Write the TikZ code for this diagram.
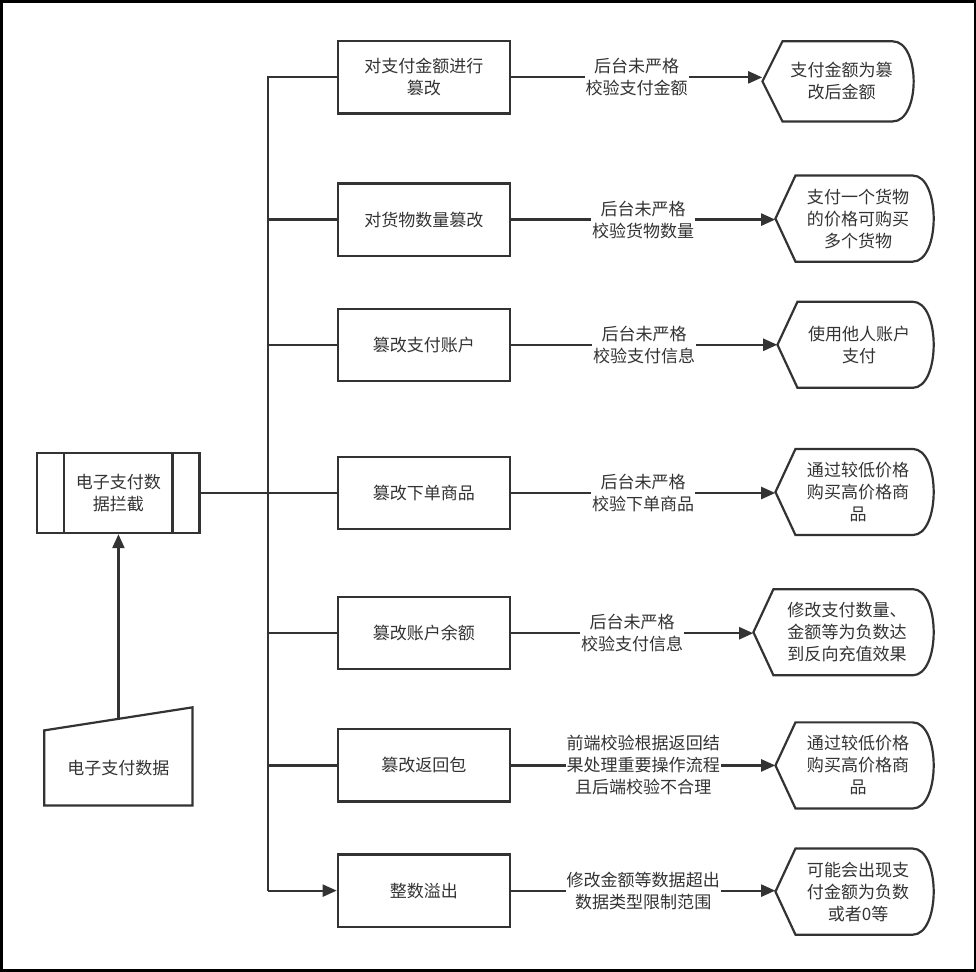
\documentclass[tikz,border=0pt]{standalone}
\usepackage{fontspec}
\setmainfont{Noto Sans CJK SC}
\usetikzlibrary{arrows.meta}
\definecolor{inkgray}{HTML}{333333}

% display shape: name, centre x, centre y, left x, right x, half height, text
\newcommand{\dispnode}[7]{%
  \node[dtext, minimum width={#5-#4}, minimum height={2*#6}] (#1) at ({(#4+#5)/2},#3) {#7};
  \draw[shape line] (#4,#3) -- (#4+20,#3-#6) -- (#5-28,#3-#6)
    .. controls (#5,#3-#6) and (#5,#3+#6) .. (#5-28,#3+#6)
    -- (#4+20,#3+#6) -- cycle;
}

\begin{document}
\begin{tikzpicture}[x=1pt, y=-1pt,
every node/.style={font=\fontsize{17}{22}\selectfont, text=inkgray, align=center},
box/.style={draw=inkgray, line width=2.2pt, minimum width=172pt, minimum height=72pt, inner sep=2pt},
dtext/.style={inner sep=0pt, text width=135pt},
shape line/.style={draw=inkgray, line width=2.2pt},
lab/.style={fill=white, inner sep=1pt},
line/.style={draw=inkgray, line width=2.2pt},
arr/.style={line, -{Triangle[length=14pt, width=12pt]}}]
%================================================================
%	Frame
\draw[line width=2.5pt] (2,2) rectangle (974,970);

%================================================================
%	Left part
\node[box, minimum width=162pt, minimum height=80pt] (ipt) at (119,493) {电子支付数\\据拦截};
\draw[line] (65,453) -- (65,533);
\draw[line] (173,453) -- (173,533);

\node[inner sep=0pt, minimum width=148pt, minimum height=75pt] (src) at (119,768) {电子支付数据};
\draw[shape line] (45,730) -- (193,707) -- (193,805) -- (45,805) -- cycle;
\coordinate (srctop) at (119,720);
\draw[arr] (srctop) -- (ipt.south);

%================================================================
%	Branch boxes
\node[box] (b1) at (424,78) {对支付金额进行\\篡改};
\node[box] (b2) at (424,220) {对货物数量篡改};
\node[box] (b3) at (424,345) {篡改支付账户};
\node[box] (b4) at (424,493) {篡改下单商品};
\node[box] (b5) at (424,633) {篡改账户余额};
\node[box] (b6) at (424,765) {篡改返回包};
\node[box] (b7) at (424,890) {整数溢出};

%----------------------------------------------------------------
\dispnode{d1}{0}{82}{762}{920}{40}{支付金额为篡\\改后金额}
\dispnode{d2}{0}{219}{775}{940}{43}{支付一个货物\\的价格可购买\\多个货物}
\dispnode{d3}{0}{345}{777}{940}{43}{使用他人账户\\支付}
\dispnode{d4}{0}{492}{775}{940}{43}{通过较低价格\\购买高价格商\\品}
\dispnode{d5}{0}{632}{753}{940}{43}{修改支付数量、\\金额等为负数达\\到反向充值效果}
\dispnode{d6}{0}{765}{775}{940}{43}{通过较低价格\\购买高价格商\\品}
\dispnode{d7}{0}{891}{775}{940}{43}{可能会出现支\\付金额为负数\\或者0等}

%================================================================
%	Lines
\coordinate (t1) at (268,78);
\coordinate (t2) at (268,220);
\coordinate (t3) at (268,345);
\coordinate (t4) at (268,493);
\coordinate (t5) at (268,633);
\coordinate (t6) at (268,765);
\coordinate (t7) at (268,890);

\draw[line] (ipt.east) -- (b4.west);
\draw[line] (b1.west) -- (t1) -- (t7);
\draw[line] (t2) -- (b2.west);
\draw[line] (t3) -- (b3.west);
\draw[line] (t5) -- (b5.west);
\draw[line] (t6) -- (b6.west);
\draw[arr] (t7) -- (b7.west);

\draw[arr] (b1.east) -- node[lab] {后台未严格\\校验支付金额} (b1.east -| d1.west);
\draw[arr] (b2.east) -- node[lab] {后台未严格\\校验货物数量} (b2.east -| d2.west);
\draw[arr] (b3.east) -- node[lab] {后台未严格\\校验支付信息} (b3.east -| d3.west);
\draw[arr] (b4.east) -- node[lab] {后台未严格\\校验下单商品} (b4.east -| d4.west);
\draw[arr] (b5.east) -- node[lab] {后台未严格\\校验支付信息} (b5.east -| d5.west);
\draw[arr] (b6.east) -- node[lab] {前端校验根据返回结\\果处理重要操作流程\\且后端校验不合理} (b6.east -| d6.west);
\draw[arr] (b7.east) -- node[lab] {修改金额等数据超出\\数据类型限制范围} (b7.east -| d7.west);
%================================================================
\end{tikzpicture}
\end{document}
